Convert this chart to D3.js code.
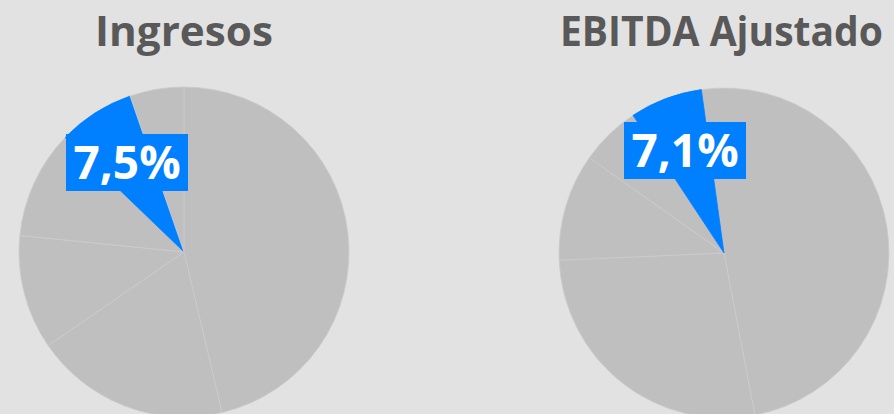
<!DOCTYPE html>
<html>
<head>
<meta charset="utf-8">
<script src="https://cdn.jsdelivr.net/npm/d3@7"></script>
<style>
  body { margin: 0; background: #e2e2e2; }
  svg { display: block; }
</style>
</head>
<body>
<svg id="chart"></svg>
<script>
// Shares (clockwise order, first slice at the start angle)
const ingresosShares = [46.3, 19.1, 11.2, 10.6, 7.5, 5.3];
const ebitdaShares = [49.2, 27.3, 10.5, 5.9, 7.1];
const titles = ["Ingresos", "EBITDA Ajustado"];
const highlightLabels = ["7,5%", "7,1%"];
const highlightIndex = [4, 4];

const width = 894, height = 414;
const radius = 165;

const svg = d3.select("#chart")
  .attr("width", width)
  .attr("height", height);

svg.append("rect")
  .attr("width", width)
  .attr("height", height)
  .attr("fill", "#e2e2e2");

const charts = [
  { data: ingresosShares, cx: 184, cy: 252, start: 0, title: titles[0], tx: 184, tw: 178, label: highlightLabels[0], hi: highlightIndex[0], box: [66, 134] },
  { data: ebitdaShares, cx: 724, cy: 253, start: -7.9, title: titles[1], tx: 721.5, tw: 323, label: highlightLabels[1], hi: highlightIndex[1], box: [624, 122] }
];

const arc = d3.arc().innerRadius(0).outerRadius(radius);

charts.forEach(c => {
  const pie = d3.pie()
    .sort(null)
    .startAngle(c.start * Math.PI / 180)
    .endAngle((c.start + 360) * Math.PI / 180);

  const g = svg.append("g")
    .attr("transform", "translate(" + c.cx + "," + c.cy + ")");

  g.selectAll("path")
    .data(pie(c.data))
    .enter()
    .append("path")
    .attr("d", arc)
    .attr("fill", (d, i) => i === c.hi ? "#0080ff" : "#bfbfbf")
    .attr("stroke", (d, i) => i === c.hi ? "#0080ff" : "#cccccc")
    .attr("stroke-width", 0.8);

  // Title, squeezed to the width seen in the picture
  svg.append("text")
    .attr("x", c.tx)
    .attr("y", 46)
    .attr("text-anchor", "middle")
    .attr("textLength", c.tw)
    .attr("lengthAdjust", "spacingAndGlyphs")
    .style("font-family", "'Open Sans', sans-serif")
    .style("font-weight", "bold")
    .style("font-size", "42px")
    .style("fill", "#595959")
    .text(c.title);

  // Label box
  svg.append("rect")
    .attr("x", c.box[0])
    .attr("y", c.box[1])
    .attr("width", 122)
    .attr("height", 57)
    .attr("fill", "#0080ff");

  svg.append("text")
    .attr("x", c.box[0] + 61)
    .attr("y", c.box[1] + 45)
    .attr("text-anchor", "middle")
    .style("font-family", "'Open Sans', sans-serif")
    .style("font-weight", "bold")
    .style("font-size", "46px")
    .style("fill", "white")
    .text(c.label);
});
</script>
</body>
</html>
